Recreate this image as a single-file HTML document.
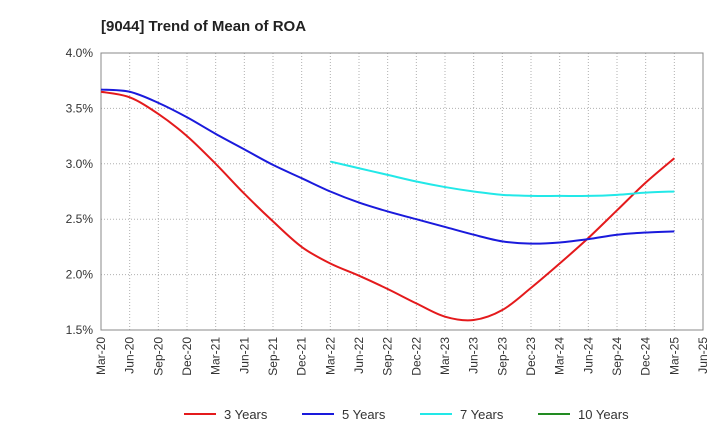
<!DOCTYPE html>
<html><head><meta charset="utf-8"><style>
body{margin:0;background:#fff;font-family:"Liberation Sans",sans-serif;}
svg text{font-family:"Liberation Sans",sans-serif;}
</style></head><body>
<svg id="chart" width="720" height="440">
<text x="101" y="31" font-size="15" font-weight="bold" fill="#222">[9044]  Trend of Mean of ROA</text>
<g id="grid"></g><g id="axes"></g><g id="series"></g><g id="legend"></g>
</svg>
<script>
const xLabels=["Mar-20","Jun-20","Sep-20","Dec-20","Mar-21","Jun-21","Sep-21","Dec-21","Mar-22","Jun-22","Sep-22","Dec-22","Mar-23","Jun-23","Sep-23","Dec-23","Mar-24","Jun-24","Sep-24","Dec-24","Mar-25","Jun-25"];
const yTicks=[1.5,2.0,2.5,3.0,3.5,4.0];
const s3=[3.65,3.60,3.45,3.25,3.00,2.73,2.48,2.25,2.10,1.99,1.87,1.74,1.62,1.59,1.68,1.88,2.10,2.33,2.58,2.83,3.05];
const s5=[3.67,3.65,3.55,3.42,3.27,3.13,2.99,2.87,2.75,2.65,2.57,2.50,2.43,2.36,2.30,2.28,2.29,2.32,2.36,2.38,2.39];
const s7=[null,null,null,null,null,null,null,null,3.02,2.96,2.90,2.84,2.79,2.75,2.72,2.71,2.71,2.71,2.72,2.74,2.75];
const s10=[];
const NS="http://www.w3.org/2000/svg";
const L=101,R=703,T=53,B=330;
const xs=i=>L+i*(R-L)/(xLabels.length-1);
const ys=v=>B-(v-1.5)/(4.0-1.5)*(B-T);
function mk(tag,attrs,parent){const e=document.createElementNS(NS,tag);for(const k in attrs)e.setAttribute(k,attrs[k]);parent.appendChild(e);return e;}
const grid=document.getElementById('grid'),axes=document.getElementById('axes'),ser=document.getElementById('series'),leg=document.getElementById('legend');
yTicks.forEach(v=>{
 const l=mk('line',{x1:L,x2:R,y1:ys(v),y2:ys(v),stroke:'#b0b0b0','stroke-dasharray':'1,2'},grid);
 
 
 const t=mk('text',{x:L-8,y:ys(v)+4,'text-anchor':'end','font-size':12,fill:'#333'},axes);
 t.textContent=v.toFixed(1)+'%';
 
 
});
xLabels.forEach((lab,i)=>{
 const g=mk('line',{x1:xs(i),x2:xs(i),y1:T,y2:B,stroke:'#b0b0b0','stroke-dasharray':'1,2'},grid);
 
 
 const t=mk('text',{x:0,y:0,'text-anchor':'end','font-size':12,fill:'#333',transform:`translate(${xs(i)+4},${B+7}) rotate(-90)`},axes);
 t.textContent=lab;
 
 
});
const frame=mk('rect',{x:L,y:T,width:R-L,height:B-T,fill:'none',stroke:'#888'},axes);


function smooth(pts){if(pts.length<2)return'';let d=`M${pts[0][0]},${pts[0][1]}`;for(let i=0;i<pts.length-1;i++){const p0=pts[i-1]||pts[i],p1=pts[i],p2=pts[i+1],p3=pts[i+2]||p2;d+=` C${p1[0]+(p2[0]-p0[0])/6},${p1[1]+(p2[1]-p0[1])/6} ${p2[0]-(p3[0]-p1[0])/6},${p2[1]-(p3[1]-p1[1])/6} ${p2[0]},${p2[1]}`;}return d;}
const series=[["3 Years",s3,"#e41a1c"],["5 Years",s5,"#1a1adc"],["7 Years",s7,"#22e8e8"],["10 Years",s10,"#228b22"]];
series.forEach(([name,arr,col],k)=>{
 const pts=[];arr.forEach((v,i)=>{if(v!=null)pts.push([xs(i),ys(v)]);});
 if(pts.length){const p=mk('path',{d:smooth(pts),fill:'none',stroke:col,'stroke-width':2},ser);
 
 }
 const lx=[184,302,420,538][k];
 const ll=mk('line',{x1:lx,x2:lx+32,y1:414,y2:414,stroke:col,'stroke-width':2},leg);
 
 
 const lt=mk('text',{x:lx+40,y:419,'font-size':13,fill:'#333'},leg);
 lt.textContent=name;
 
 
});
</script>
</body></html>
